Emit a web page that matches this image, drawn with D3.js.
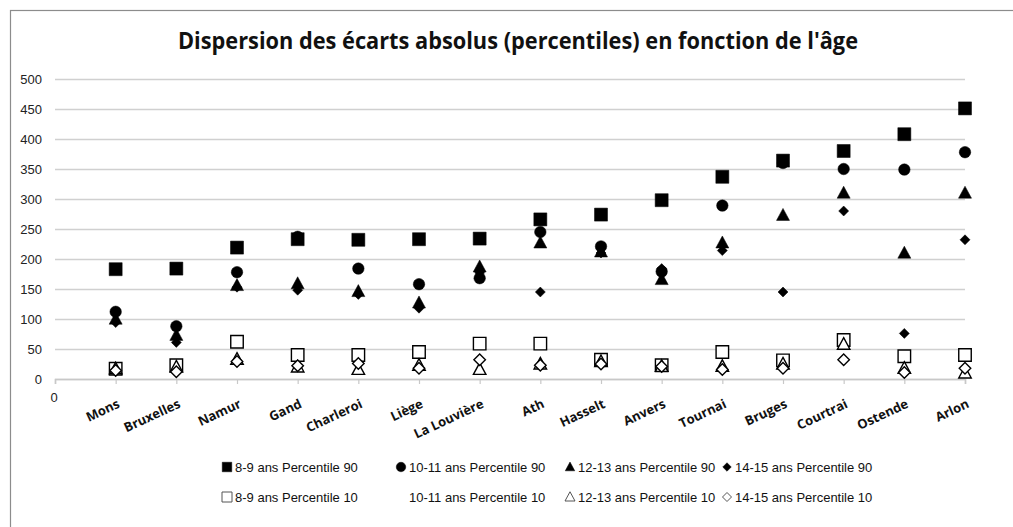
<!DOCTYPE html>
<html>
<head>
<meta charset="utf-8">
<script src="https://cdn.jsdelivr.net/npm/d3@7/dist/d3.min.js"></script>
<style>
  html, body { margin: 0; padding: 0; background: #fff; }
  svg { display: block; }
</style>
</head>
<body>
<svg id="chart" width="1013" height="527"></svg>
<script>
// Cities along the x axis (positions 1..15; position 0 carries the "0" label)
const cities = ["Mons", "Bruxelles", "Namur", "Gand", "Charleroi", "Liège", "La Louvière",
  "Ath", "Hasselt", "Anvers", "Tournai", "Bruges", "Courtrai", "Ostende", "Arlon"];

// Percentile 90 per age group
const p90_8_9   = [183, 184, 219, 233, 232, 233, 234, 266, 274, 298, 337, 364, 380, 408, 451];
const p90_10_11 = [112,  88, 178, 237, 184, 158, 168, 245, 221, 179, 289, 360, 350, 349, 378];
const p90_12_13 = [100,  73, 156, 159, 146, 127, 187, 227, 212, 166, 227, 273, 310, 210, 310];
const p90_14_15 = [ 94,  61, 153, 148, 141, 118, 177, 145, 210, 184, 214, 145, 280,  76, 232];

// Percentile 10 per age group (10-11 ans has no visible marker)
const p10_8_9   = [17, 23, 62, 40, 40, 45, 59, 59, 32, 23, 45, 31, 65, 38, 40];
const p10_10_11 = [];
const p10_12_13 = [17, 20, 33, 20, 16, 23, 16, 25, 29, 21, 21, 25, 58, 18, 10];
const p10_14_15 = [14, 12, 29, 22, 26, 18, 32, 23, 25, 21, 16, 18, 32, 11, 18];

const yTicks = [0, 50, 100, 150, 200, 250, 300, 350, 400, 450, 500];

const series = [
  { name: "8-9 ans Percentile 90",   values: p90_8_9,   shape: "square",   filled: true },
  { name: "10-11 ans Percentile 90", values: p90_10_11, shape: "circle",   filled: true },
  { name: "12-13 ans Percentile 90", values: p90_12_13, shape: "triangle", filled: true },
  { name: "14-15 ans Percentile 90", values: p90_14_15, shape: "diamond",  filled: true },
  { name: "8-9 ans Percentile 10",   values: p10_8_9,   shape: "square",   filled: false },
  { name: "10-11 ans Percentile 10", values: p10_10_11, shape: "none",     filled: false },
  { name: "12-13 ans Percentile 10", values: p10_12_13, shape: "triangle", filled: false },
  { name: "14-15 ans Percentile 10", values: p10_14_15, shape: "diamond",  filled: false }
];

const svg = d3.select("#chart");
const plot = { left: 55, right: 965, top: 79, bottom: 379 };

const x = d3.scaleLinear().domain([0, cities.length]).range([plot.left, plot.right]);
const y = d3.scaleLinear().domain([0, 500]).range([plot.bottom, plot.top]);

// Outer frame
svg.append("rect")
  .attr("x", 10.5).attr("y", 10.5)
  .attr("width", 1010).attr("height", 530)
  .attr("fill", "none").attr("stroke", "#8c8c8c").attr("stroke-width", 1.2);

// Title
svg.append("text")
  .attr("x", 518).attr("y", 49)
  .attr("text-anchor", "middle")
  .attr("font-family", "'Open Sans', 'Noto Sans', sans-serif")
  .attr("font-weight", "bold")
  .attr("font-size", 22.5)
  .attr("fill", "#111")
  .attr("textLength", 680)
  .attr("lengthAdjust", "spacingAndGlyphs")
  .text("Dispersion des écarts absolus (percentiles) en fonction de l'âge");

// Horizontal gridlines + y labels
const yAxis = d3.axisLeft(y).tickValues(yTicks).tickSize(-(plot.right - plot.left)).tickPadding(13);
const gy = svg.append("g").attr("transform", `translate(${plot.left},0)`).call(yAxis);
gy.select(".domain").remove();
gy.selectAll(".tick line").attr("stroke", "#d0d0d0").attr("stroke-width", 1.6);
gy.selectAll(".tick text")
  .attr("font-family", "'Liberation Sans', Arial, sans-serif")
  .attr("font-size", 13).attr("fill", "#222");

// Bottom axis with one tick per position
const xLabels = ["0"].concat(cities);
const xAxis = d3.axisBottom(x).tickValues(d3.range(0, cities.length + 1)).tickSize(5).tickFormat(() => "");
const gx = svg.append("g").attr("transform", `translate(0,${plot.bottom})`).call(xAxis);
gx.select(".domain").attr("stroke", "#c8c8c8").attr("stroke-width", 1.6);
gx.selectAll(".tick line").attr("stroke", "#c8c8c8").attr("stroke-width", 1.2);

// Position-0 label (upright) and city labels (rotated, bold)
svg.append("text")
  .attr("x", x(0) - 1).attr("y", 402)
  .attr("text-anchor", "middle")
  .attr("font-family", "'Liberation Sans', Arial, sans-serif")
  .attr("font-size", 13).attr("fill", "#222")
  .text(xLabels[0]);

svg.append("g").selectAll("text")
  .data(cities)
  .join("text")
  .attr("transform", (d, i) => `translate(${x(i + 1) + 5},${407}) rotate(-25)`)
  .attr("text-anchor", "end")
  .attr("font-family", "'Open Sans', 'Noto Sans', sans-serif")
  .attr("font-weight", "bold")
  .attr("font-size", 13)
  .attr("fill", "#111")
  .text(d => d);

// Marker shapes
function markerPath(shape, s) {
  const h = s / 2;
  switch (shape) {
    case "square":   return `M${-h},${-h}H${h}V${h}H${-h}Z`;
    case "circle":   return d3.symbol(d3.symbolCircle, Math.PI * h * h)();
    case "triangle": return `M0,${-h * 1.05}L${h},${h * 0.8}L${-h},${h * 0.8}Z`;
    case "diamond":  return `M0,${-h}L${h},0L0,${h}L${-h},0Z`;
    default: return "";
  }
}
const sizes = {
  filled: { square: 13, circle: 11.5, triangle: 13, diamond: 10 },
  open:   { square: 12.5, circle: 11, triangle: 12.5, diamond: 11.5 }
};

// Points, drawn series by series so later series sit on top
const pts = svg.append("g");
series.forEach(s => {
  if (s.shape === "none") return;
  const size = (s.filled ? sizes.filled : sizes.open)[s.shape];
  pts.append("g").selectAll("path")
    .data(s.values.map((v, i) => ({ v, i })).filter(d => d.v != null))
    .join("path")
    .attr("transform", d => `translate(${x(d.i + 1)},${y(d.v)})`)
    .attr("d", markerPath(s.shape, size))
    .attr("fill", s.filled ? "#000" : "#fff")
    .attr("stroke", "#000")
    .attr("stroke-width", s.filled ? 0.5 : 1.4);
});

// Legend: two rows of four entries
const legCols = [227, 401, 570, 727];
const legRows = [467, 497];
const leg = svg.append("g");
series.forEach((s, k) => {
  const cx = legCols[k % 4];
  const cy = legRows[Math.floor(k / 4)];
  if (s.shape !== "none") {
    const size = s.filled ? 9.5 : 10;
    leg.append("path")
      .attr("transform", `translate(${cx},${cy})`)
      .attr("d", markerPath(s.shape, s.shape === "diamond" ? size * 0.9 : size))
      .attr("fill", s.filled ? "#000" : "#fff")
      .attr("stroke", s.filled ? "#000" : "#555")
      .attr("stroke-width", s.filled ? 0.5 : 1);
  }
  leg.append("text")
    .attr("x", cx + 8).attr("y", cy + 4.5)
    .attr("font-family", "'Liberation Sans', Arial, sans-serif")
    .attr("font-size", 13)
    .attr("fill", "#111")
    .text(s.name);
});
</script>
</body>
</html>
